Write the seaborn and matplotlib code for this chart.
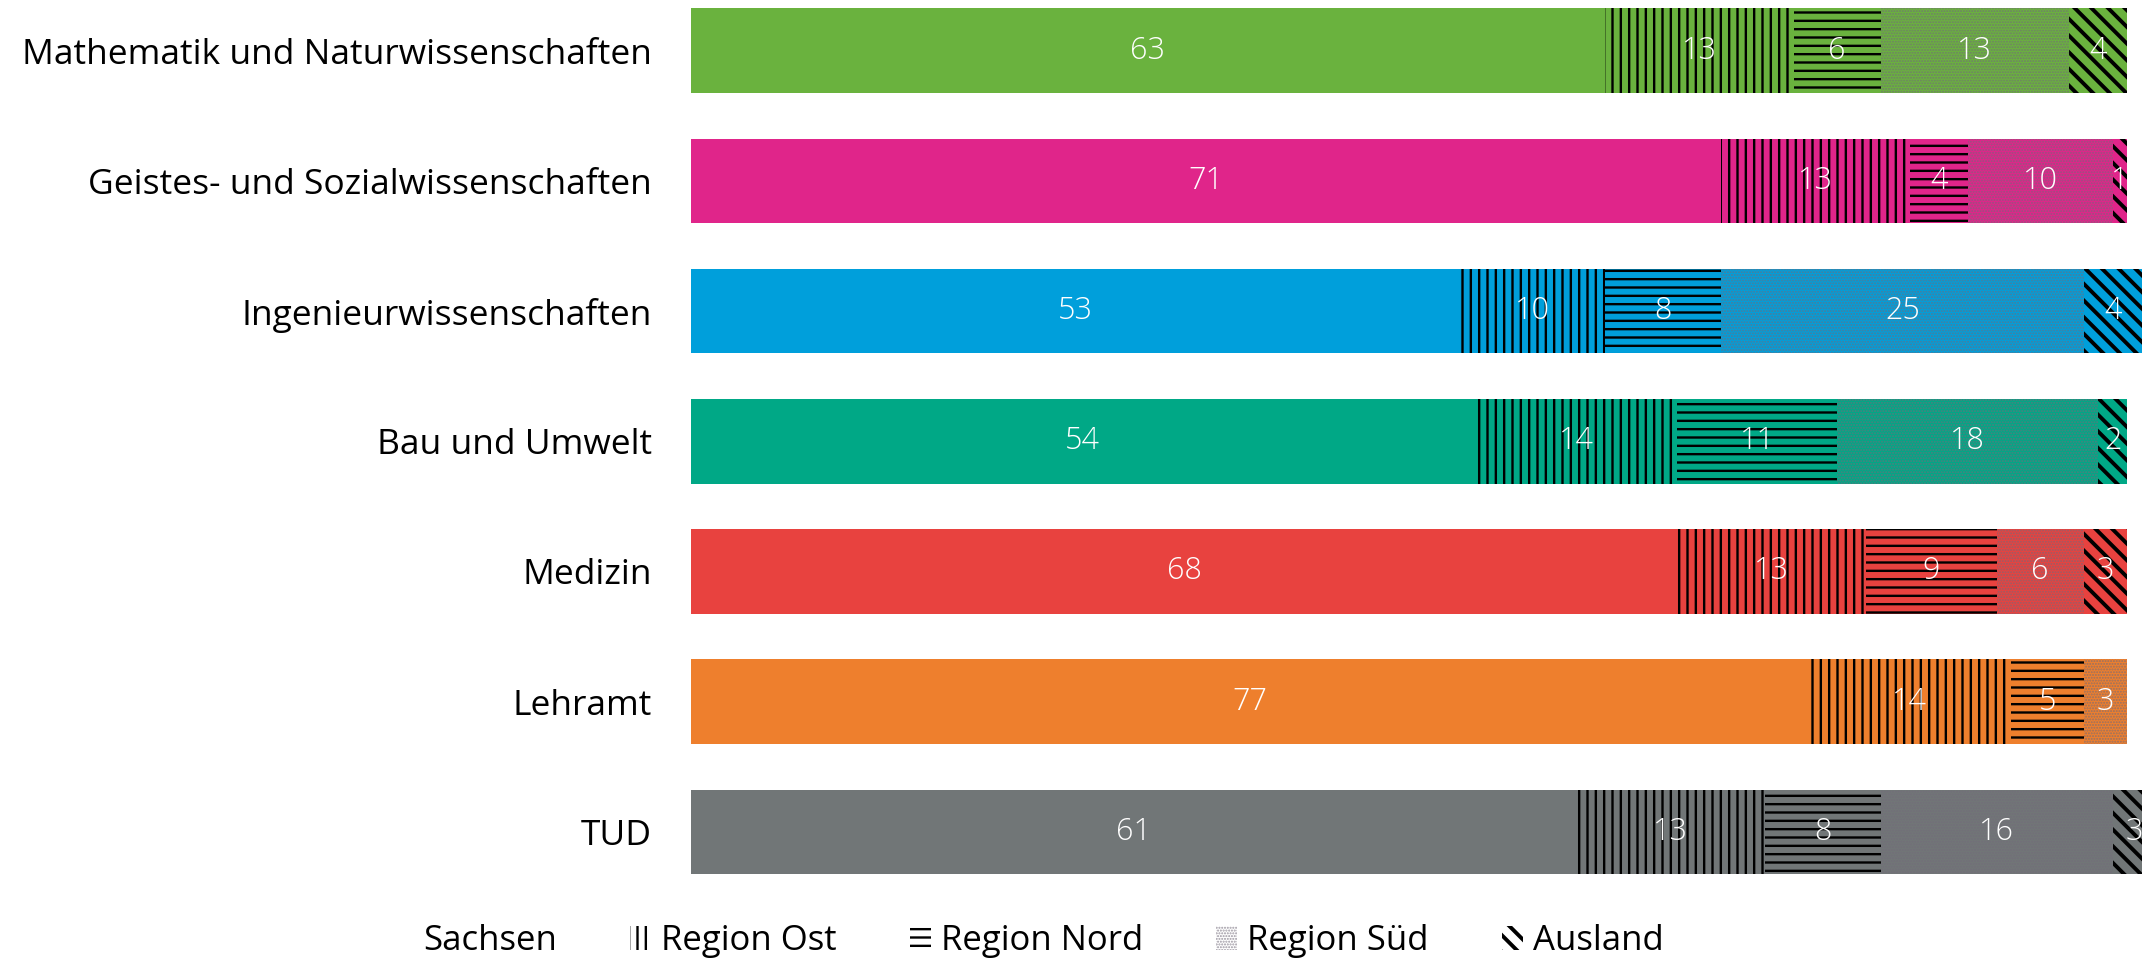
import numpy as np
import pandas as pd
import seaborn as sns
import matplotlib.pyplot as plt
from matplotlib.patches import Patch

# data (percent)
faculties = ['Mathematik und Naturwissenschaften', 'Geistes- und Sozialwissenschaften',
             'Ingenieurwissenschaften', 'Bau und Umwelt', 'Medizin', 'Lehramt', 'TUD']
regions = ['Sachsen', 'Region Ost', 'Region Nord', 'Region Süd', 'Ausland']
sachsen = [63, 71, 53, 54, 68, 77, 61]
ost = [13, 13, 10, 14, 13, 14, 13]
nord = [6, 4, 8, 11, 9, 5, 8]
sued = [13, 10, 25, 18, 6, 3, 16]
ausland = [4, 1, 4, 2, 3, 0, 3]

colors = ['#6ab23e', '#e0258a', '#009fdb', '#00a886', '#e8423f', '#ee7f2d', '#717677']
hatches = [None, '||', '--', '......', '\\\\']
hatch_cols = ['none', 'black', 'black', (0.45, 0.42, 0.48, 0.7), 'black']
hatch_lw = [1, 1.7, 1.7, 1, 2.8]

values = np.array([sachsen, ost, nord, sued, ausland])
cum = values.cumsum(axis=0)

plt.rcParams['font.family'] = ['Open Sans', 'DejaVu Sans']
plt.rcParams['hatch.linewidth'] = 1.7

fig = plt.figure(figsize=(21.46, 9.65), dpi=100)
ax = fig.add_axes([0.322, 0.088, 0.676, 0.912])

# draw cumulative bars from the outermost segment inwards
for k in range(len(regions) - 1, -1, -1):
    df = pd.DataFrame({'Fakultaet': faculties, 'Wert': cum[k]})
    n_before = len(ax.patches)
    sns.barplot(data=df, x='Wert', y='Fakultaet', hue='Fakultaet', palette=colors,
                orient='h', width=0.65, legend=False, ax=ax, linewidth=0, saturation=1)
    for p in ax.patches[n_before:]:
        if hatches[k]:
            p.set_hatch(hatches[k])
            p.set_edgecolor(hatch_cols[k])
            if hasattr(p, 'set_hatch_linewidth'):
                p.set_hatch_linewidth(hatch_lw[k])
        p.set_linewidth(0)

# value labels
for i in range(len(faculties)):
    for k in range(len(regions)):
        v = values[k, i]
        if v <= 0:
            continue
        mid = cum[k, i] - v / 2
        ax.text(mid, i, str(v), ha='center', va='center', color='white',
                fontsize=22, fontweight='light')

ax.set_xlim(0, 100)
ax.set_ylim(6.37, -0.389)
ax.set_xlabel('')
ax.set_ylabel('')
ax.set_xticks([])
ax.tick_params(axis='y', length=0, pad=28, labelsize=25.5)
for s in ax.spines.values():
    s.set_visible(False)

handles = [Patch(facecolor='white', edgecolor='white', linewidth=0)]
for k in range(1, len(regions)):
    handles.append(Patch(facecolor='white', edgecolor=hatch_cols[k], hatch=hatches[k], linewidth=0))
leg = fig.legend(handles, regions, loc='center', bbox_to_anchor=(0.479, 0.025),
                 ncol=5, frameon=False, fontsize=25, handlelength=0.6, handleheight=0.7,
                 handletextpad=0.3, columnspacing=2.1)
for k, p in enumerate(leg.get_patches()):
    if hasattr(p, 'set_hatch_linewidth'):
        p.set_hatch_linewidth(hatch_lw[k])

fig.savefig('out.png', dpi=100)
